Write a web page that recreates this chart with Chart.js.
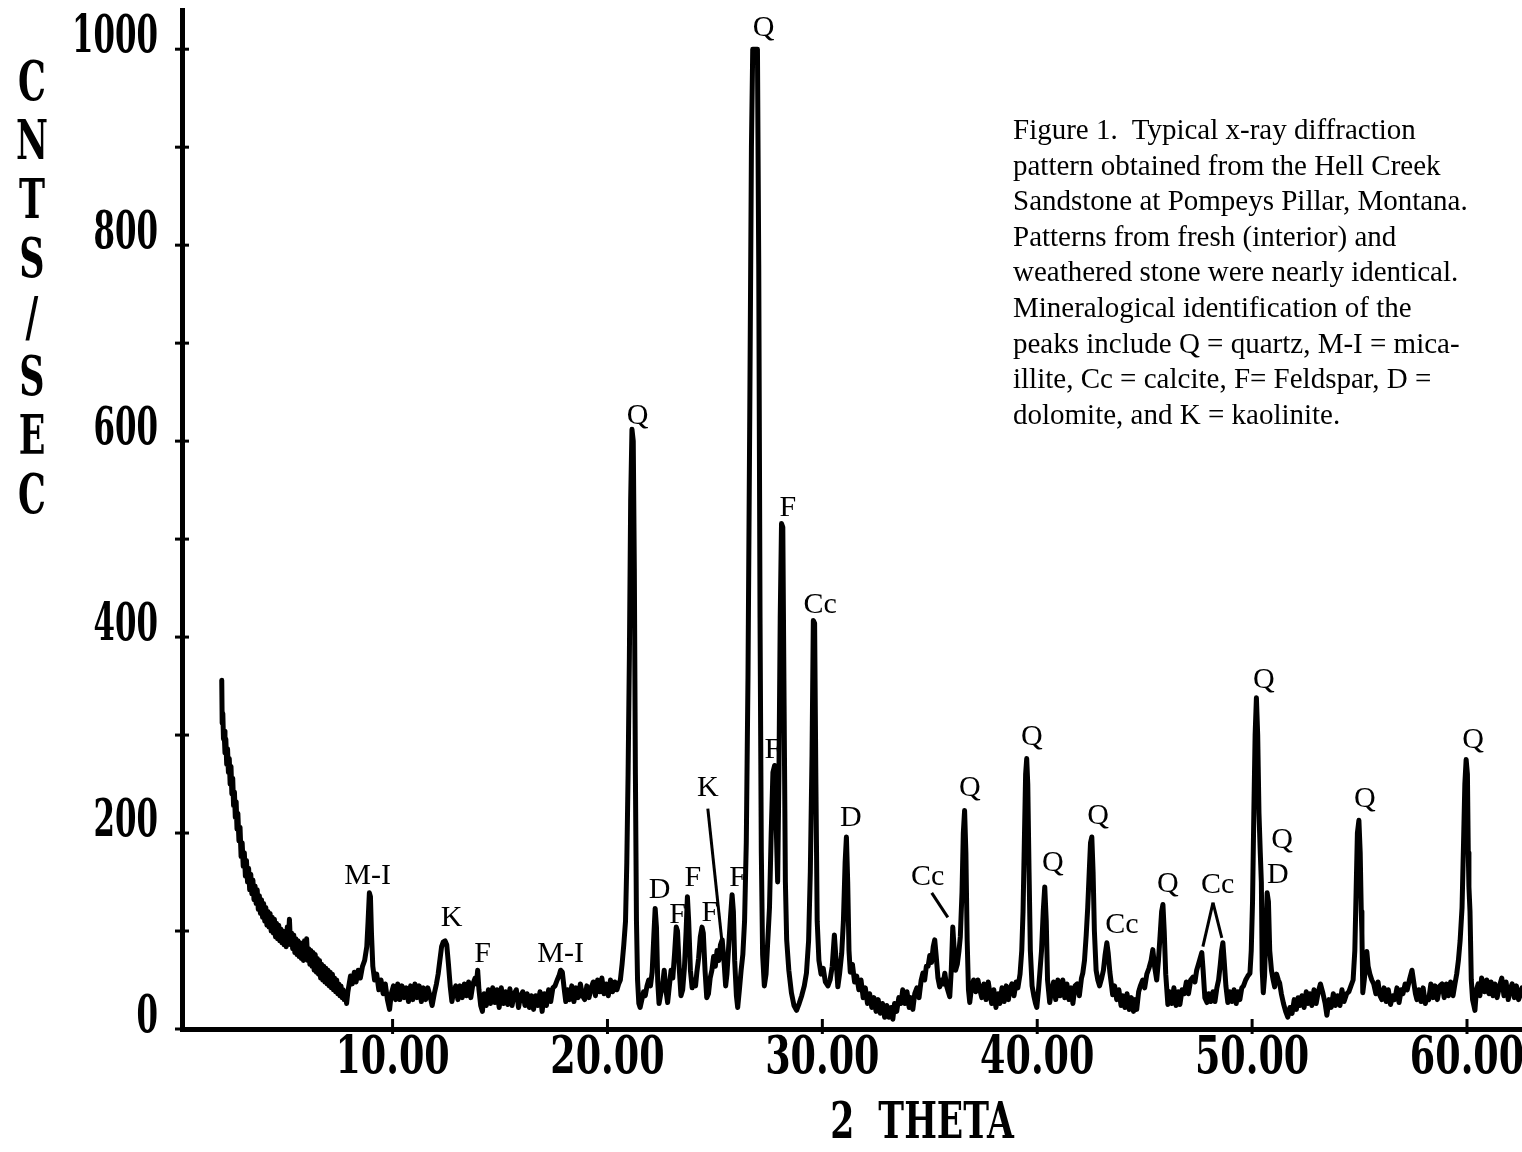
<!DOCTYPE html>
<html>
<head>
<meta charset="utf-8">
<script src="https://cdn.jsdelivr.net/npm/chart.js@4.4.1/dist/chart.umd.min.js"></script>
<style>
  html, body { margin: 0; padding: 0; background: #fff; }
  #wrap { position: relative; width: 1522px; height: 1152px; overflow: hidden; }
  #xrd { position: absolute; left: 0; top: 0; }
  .caption {
    position: absolute; left: 1013px; top: 112px;
    font-family: "Liberation Serif", "Times New Roman", serif;
    font-size: 29px; line-height: 35.6px; color: #000; white-space: nowrap;
  }
  .ytitle {
    position: absolute; left: 8px; top: 52px; width: 48px;
    font-family: "DejaVu Serif Condensed", "DejaVu Serif", serif; font-weight: bold;
    font-size: 54px; line-height: 59px; text-align: center; color: #000;
    transform: scaleX(0.72); transform-origin: center top;
  }
  .xtitle {
    position: absolute; left: 722px; top: 1096px; width: 400px; text-align: center;
    font-family: "DejaVu Serif Condensed", "DejaVu Serif", serif; font-weight: bold;
    font-size: 50px; line-height: 50px; color: #000; white-space: pre;
    transform: scaleX(0.77); transform-origin: center top;
  }
</style>
</head>
<body>
<div id="wrap">
  <canvas id="xrd" width="1522" height="1152"></canvas>
  <div class="ytitle">C<br>N<br>T<br>S<br>/<br>S<br>E<br>C</div>
  <div class="xtitle">2  THETA</div>
  <div class="caption">Figure 1.&nbsp; Typical x-ray diffraction<br>pattern obtained from the Hell Creek<br>Sandstone at Pompeys Pillar, Montana.<br>Patterns from fresh (interior) and<br>weathered stone were nearly identical.<br>Mineralogical identification of the<br>peaks include Q = quartz, M-I = mica-<br>illite, Cc = calcite, F= Feldspar, D =<br>dolomite, and K = kaolinite.</div>
</div>
<script>
// diffraction trace, [2 theta, counts/sec]
const lowAngle = [
  [2.05,356],[2.07,312],[2.1,322],[2.13,296],[2.16,304],[2.2,282],[2.24,296],[2.28,270],[2.32,286],[2.36,262],
  [2.4,276],[2.44,250],[2.48,268],[2.52,240],[2.56,256],[2.6,228],[2.64,242],[2.68,216],[2.72,232],[2.76,204],
  [2.8,220],[2.85,192],[2.9,206],[2.95,176],[3.0,190],[3.05,166],[3.1,180],[3.15,156],[3.2,172],[3.25,150],
  [3.3,164],[3.35,142],[3.4,158],[3.45,138],[3.5,152],[3.55,132],[3.6,146],[3.65,128],[3.7,142],[3.75,122],
  [3.8,136],[3.85,118],[3.9,132],[3.95,114],[4.0,128],[4.05,110],[4.1,124],[4.15,106],[4.2,120],[4.25,104],
  [4.3,118],[4.35,100],[4.4,114],[4.45,98],[4.5,112],[4.55,94],[4.6,108],[4.65,92],[4.7,106],[4.75,90],
  [4.8,102],[4.85,88],[4.9,100],[4.95,86],[5.0,98],[5.05,84],[5.1,104],[5.15,92],[5.2,112],[5.25,86],
  [5.3,98],[5.35,82],[5.4,96],[5.45,78],[5.5,92],[5.55,76],[5.6,90],[5.65,74],[5.7,88],[5.75,72],
  [5.8,86],[5.85,70],[5.9,90],[5.95,74],[6.0,92],[6.05,70],[6.1,82],[6.15,66],[6.2,80],[6.25,64],
  [6.3,78],[6.35,60],[6.4,76],[6.45,58],[6.5,72],[6.55,56],[6.6,70],[6.65,52],[6.7,66],[6.75,50],
  [6.8,64],[6.85,48],[6.9,62],[6.95,46],[7.0,60],[7.05,44],[7.1,58],[7.15,42],[7.2,56],[7.25,40],
  [7.3,52],[7.35,38],[7.4,50],[7.45,36],[7.5,46],[7.55,34],[7.6,44],[7.65,32],[7.7,40],[7.75,30],
  [7.8,36],[7.86,26],[7.92,38],[7.98,46],[8.04,54],[8.12,46],[8.22,58],[8.3,48],[8.4,60],[8.5,52],
  [8.6,64],[8.7,70],[8.8,84],[8.86,110],[8.92,139],[8.97,135],[9.02,96],[9.08,64],[9.16,50],[9.26,56],
  [9.36,40],[9.46,50],[9.56,36],[9.66,46],[9.76,30],[9.86,20],[9.94,36],[10.04,44],[10.14,30],[10.24,46],
  [10.34,30],[10.44,44],[10.54,32],[10.64,42],[10.74,28],[10.84,44],[10.94,30],[11.04,46],[11.14,32],[11.24,44],
  [11.34,28],[11.44,42],[11.54,30],[11.64,42],[11.74,34],[11.84,24],[11.94,36],[12.04,46],[12.12,56],[12.2,70],
  [12.28,84],[12.36,89],[12.44,90],[12.52,86],[12.6,66],[12.68,44],[12.76,28],[12.84,38],[12.94,44],[13.04,30],
  [13.14,44],[13.24,32],[13.34,46],[13.44,34],[13.54,48],[13.64,32],[13.74,46],[13.84,52],[13.9,46],[13.96,60],
  [14.02,40],[14.1,24],[14.18,18],[14.26,36],[14.36,24],[14.46,40],[14.56,26],[14.66,42],[14.76,27],[14.86,40],
  [14.96,22],[15.06,42],[15.16,26],[15.26,38],[15.36,25],[15.46,41],[15.56,24],[15.66,36],[15.76,40],[15.86,22],
  [15.96,34],[16.06,38],[16.16,24],[16.26,36],[16.36,22],[16.46,34],[16.56,20],[16.66,34],[16.76,24],[16.86,38],
  [16.96,18],[17.06,36],[17.16,24],[17.26,40],[17.36,28],[17.46,42],[17.56,44],[17.66,50],[17.74,54],[17.82,60],
  [17.9,58],[17.98,42],[18.06,28],[18.14,40],[18.24,30],[18.34,44],[18.44,28],[18.54,42],[18.64,32],[18.74,46],
  [18.84,34],[18.94,30],[19.04,44],[19.14,32],[19.24,42],[19.34,48],[19.44,34],[19.54,50],[19.64,38],[19.74,52],
  [19.84,36],[19.94,46],[20.04,34],[20.14,50],[20.24,38],[20.34,48]
];
const quartzCluster = [
  [20.44,40],[20.52,46],[20.6,50],[20.68,66],[20.76,86],[20.84,110],[20.9,170],[20.96,260],[21.02,380],[21.08,540],
  [21.14,612],[21.2,600],[21.25,470],[21.3,260],[21.35,110],[21.4,50],[21.46,26],[21.52,22],[21.6,30],[21.68,38],
  [21.76,34],[21.84,44],[21.92,50],[22.0,44],[22.08,58],[22.16,96],[22.22,123],[22.28,104],[22.34,48],[22.4,26],
  [22.48,36],[22.56,44],[22.64,60],[22.72,40],[22.8,27],[22.88,44],[22.96,60],[23.04,52],[23.12,76],[23.2,104],
  [23.26,100],[23.34,62],[23.42,34],[23.5,40],[23.58,62],[23.66,100],[23.72,135],[23.78,110],[23.86,60],[23.94,42],
  [24.02,50],[24.1,44],[24.16,58],[24.24,72],[24.32,94],[24.4,104],[24.46,98],[24.54,60],[24.62,32],[24.7,36],
  [24.78,52],[24.86,60],[24.94,74],[25.02,64],[25.1,80],[25.18,70],[25.26,86],[25.34,91],[25.42,70],[25.5,44],
  [25.56,56],[25.64,84],[25.72,112],[25.8,137],[25.86,120],[25.92,70],[26.0,34],[26.06,22],[26.14,40],[26.22,60],
  [26.3,76],[26.38,110],[26.46,190],[26.54,360],[26.62,620],[26.7,900],[26.76,1000],[26.98,1000],[27.04,780],[27.1,420],
  [27.16,180],[27.22,76],[27.3,44],[27.38,56],[27.46,90],[27.54,124],[27.62,200],[27.7,262],[27.78,269],[27.85,210],
  [27.92,150],[27.98,260],[28.04,420],[28.1,516],[28.16,512],[28.22,330],[28.28,150],[28.34,91],[28.44,60],[28.56,37],
  [28.68,24],[28.8,19],[28.92,26],[29.04,34],[29.16,44],[29.26,57],[29.36,90],[29.44,160],[29.52,280],[29.58,417],
  [29.64,414],[29.7,250],[29.76,110],[29.84,70],[29.94,56],[30.04,62],[30.14,48],[30.26,44],[30.36,50],[30.46,64],
  [30.56,96],[30.64,70],[30.72,43],[30.8,56],[30.9,77],[30.98,110],[31.06,170],[31.12,196],[31.18,150],[31.24,80],
  [31.3,58],[31.4,66],[31.5,48],[31.6,54],[31.7,40],[31.8,50],[31.9,32],[32.0,42],[32.1,26],[32.2,36],
  [32.3,22],[32.4,32],[32.5,18],[32.6,30],[32.7,16],[32.8,26],[32.9,12],[33.0,24],[33.1,12],[33.2,22],
  [33.28,10],[33.36,26],[33.46,18],[33.56,32]
];
const midAngle = [
  [33.66,26],[33.74,40],[33.84,26],[33.94,38],[34.04,22],[34.12,32],[34.21,20],[34.3,36],[34.4,42],[34.5,32],
  [34.6,50],[34.68,57],[34.76,50],[34.84,64],[34.92,64],[35.0,75],[35.08,68],[35.16,84],[35.23,91],[35.3,74],
  [35.38,52],[35.46,43],[35.54,50],[35.62,46],[35.7,57],[35.78,44],[35.86,38],[35.93,33],[36.0,60],[36.07,104],
  [36.14,80],[36.2,60],[36.28,66],[36.36,80],[36.42,94],[36.5,140],[36.56,200],[36.62,223],[36.68,180],[36.74,90],
  [36.8,40],[36.86,27],[36.94,42],[37.04,50],[37.14,38],[37.24,50],[37.33,40],[37.42,32],[37.52,46],[37.62,30],
  [37.72,48],[37.79,38],[37.88,26],[37.98,40],[38.08,22],[38.18,36],[38.26,26],[38.36,42],[38.46,28],[38.56,44],
  [38.66,30],[38.72,40],[38.82,46],[38.92,34],[39.02,48],[39.1,42],[39.2,56],[39.28,80],[39.34,120],[39.4,190],
  [39.46,260],[39.51,276],[39.56,250],[39.62,160],[39.68,80],[39.76,44],[39.84,34],[39.92,26],[39.98,22],[40.06,40],
  [40.12,57],[40.2,80],[40.28,120],[40.35,145],[40.42,110],[40.48,50],[40.58,27],[40.66,38],[40.76,48],[40.86,30],
  [40.96,50],[41.06,34],[41.19,50],[41.28,32],[41.38,46],[41.48,30],[41.58,42],[41.66,26],[41.76,44],[41.86,46],
  [41.96,34],[42.06,52],[42.12,57],[42.2,70],[42.28,96],[42.35,124],[42.42,160],[42.48,190],[42.54,196],[42.6,160],
  [42.66,100],[42.74,60],[42.82,50],[42.9,44],[43.0,52],[43.08,60],[43.16,76],[43.24,88],[43.3,78],[43.38,58],
  [43.46,44],[43.51,35],[43.6,44],[43.7,30],[43.8,40],[43.9,24],[43.98,34],[44.08,22],[44.18,36],[44.28,20],
  [44.38,32],[44.48,18],[44.56,30],[44.63,20],[44.72,38],[44.8,44],[44.91,50],[45.0,42],[45.1,56],[45.2,62],
  [45.3,70],[45.38,81],[45.46,64],[45.56,50],[45.64,70],[45.72,96],[45.79,120],[45.85,127],[45.91,100],[45.98,56],
  [46.08,25],[46.16,38],[46.26,26],[46.36,42],[46.46,24],[46.56,38],[46.64,25],[46.74,40],[46.84,36],[46.94,48],
  [47.04,36],[47.14,50],[47.25,53],[47.34,48],[47.42,60],[47.5,66],[47.58,72],[47.66,78],[47.72,60],[47.8,32]
];
const highAngle = [
  [47.9,27],[47.98,36],[48.08,28],[48.18,38],[48.27,28],[48.36,42],[48.44,50],[48.52,66],[48.58,80],[48.64,88],
  [48.7,70],[48.78,44],[48.87,27],[48.96,38],[49.06,28],[49.16,40],[49.26,26],[49.34,38],[49.43,30],[49.52,42],
  [49.6,44],[49.7,50],[49.8,54],[49.9,57],[49.96,80],[50.02,130],[50.08,220],[50.14,300],[50.2,338],[50.26,300],
  [50.32,220],[50.38,180],[50.43,150],[50.47,60],[50.52,37],[50.58,54],[50.64,100],[50.7,139],[50.76,130],[50.82,80],
  [50.9,60],[50.98,50],[51.05,43],[51.14,56],[51.22,50],[51.28,47],[51.36,36],[51.46,26],[51.56,18],[51.66,12],
  [51.76,22],[51.86,16],[51.96,30],[52.06,20],[52.14,32],[52.22,24],[52.32,34],[52.42,22],[52.52,38],[52.6,26],
  [52.69,36],[52.78,24],[52.88,40],[52.98,26],[53.08,38],[53.18,46],[53.3,36],[53.4,26],[53.48,14],[53.58,30],
  [53.68,22],[53.78,36],[53.88,24],[53.98,34],[54.09,24],[54.18,40],[54.28,28],[54.4,36],[54.5,38],[54.6,44],
  [54.7,50],[54.78,80],[54.84,140],[54.9,200],[54.97,213],[55.03,180],[55.08,120],[55.11,98],[55.15,37],[55.22,50],
  [55.28,66],[55.34,79],[55.4,64],[55.48,56],[55.57,50],[55.66,46],[55.76,36],[55.86,48],[55.95,34],[56.04,30],
  [56.14,42],[56.24,28],[56.34,40],[56.44,25],[56.55,34],[56.64,30],[56.74,42],[56.84,27],[56.94,40],[57.02,36],
  [57.12,46],[57.22,40],[57.32,50],[57.44,60],[57.52,48],[57.6,36],[57.67,30],[57.76,40],[57.86,28],[57.96,42],
  [58.06,26],[58.13,32],[58.22,30],[58.32,46],[58.42,32],[58.52,44],[58.62,30],[58.74,44],[58.84,46],[58.94,32],
  [59.04,46],[59.14,34],[59.24,48],[59.35,34],[59.44,46],[59.52,56],[59.6,70],[59.68,90],[59.77,124],[59.84,190],
  [59.9,250],[59.96,275],[60.02,260],[60.06,180],[60.09,145],[60.14,120],[60.2,50],[60.26,30],[60.32,24],[60.37,19],
  [60.44,40],[60.52,46],[60.6,34],[60.68,52],[60.74,48],[60.82,38],[60.92,50],[61.02,36],[61.12,48],[61.21,34],
  [61.3,46],[61.4,32],[61.54,46],[61.62,52],[61.72,34],[61.82,48],[61.92,30],[62.0,40],[62.1,46],[62.2,32],
  [62.3,44],[62.4,30],[62.47,34],[62.56,42]
];

// mineral labels: text, 2 theta and counts at the label centre
const peakNames  = ['Q', 'Q', 'F', 'Cc', 'F', 'K', 'D', 'D', 'F', 'F', 'F', 'F',
                    'M-I', 'K', 'F', 'M-I', 'Cc', 'Q', 'Q', 'Q', 'Q', 'Cc', 'Q', 'Cc',
                    'Q', 'Q', 'D', 'Q', 'Q'];
const peakTheta  = [27.27, 21.4, 28.4, 29.9, 27.7, 24.67, 31.33, 22.43, 23.97, 23.26, 24.76, 26.06,
                    8.84, 12.75, 14.19, 17.82, 34.9, 36.86, 39.75, 40.73, 42.83, 43.94, 46.08, 48.4,
                    50.54, 51.4, 51.2, 55.25, 60.28];
const peakCounts = [1022, 626, 532, 433, 285, 246, 215, 142, 154, 116, 118, 154,
                    156, 113, 76, 76, 155, 246, 298, 169, 217, 106, 148, 147,
                    356, 193, 157, 235, 295];
// pointer lines from labels to their peaks: [theta1, counts1, theta2, counts2]
const leaderLines = [
  [24.67, 225, 25.32, 91],
  [35.09, 139, 35.84, 114],
  [47.71, 84, 48.18, 129],
  [48.18, 129, 48.59, 93]
];

const yTickValues = [0, 100, 200, 300, 400, 500, 600, 700, 800, 900, 1000];
const yTickLabels = ['0', '', '200', '', '400', '', '600', '', '800', '', '1000'];
const xTickValues = [10, 20, 30, 40, 50, 60];
const xTickLabels = ['10.00', '20.00', '30.00', '40.00', '50.00', '60.00'];

const trace = [...lowAngle, ...quartzCluster, ...midAngle, ...highAngle]
  .map(([t, c]) => ({ x: t, y: c }));

const tickFont = 'bold 52px "DejaVu Serif Condensed", "DejaVu Serif", serif';

const xrdDecor = {
  id: 'xrdDecor',
  beforeDatasetsDraw(chart) {
    const { ctx, scales: { x, y } } = chart;
    ctx.save();
    ctx.fillStyle = '#000';
    ctx.font = '30px "Liberation Serif", "Times New Roman", serif';
    ctx.textAlign = 'center';
    ctx.textBaseline = 'middle';
    peakNames.forEach((name, i) => {
      ctx.fillText(name, x.getPixelForValue(peakTheta[i]), y.getPixelForValue(peakCounts[i]));
    });
    ctx.strokeStyle = '#000';
    ctx.lineWidth = 3;
    leaderLines.forEach(([t1, c1, t2, c2]) => {
      ctx.beginPath();
      ctx.moveTo(x.getPixelForValue(t1), y.getPixelForValue(c1));
      ctx.lineTo(x.getPixelForValue(t2), y.getPixelForValue(c2));
      ctx.stroke();
    });
    ctx.restore();
  },
  afterDraw(chart) {
    const { ctx, scales: { x, y } } = chart;
    const left = chart.chartArea.left;
    const bottom = chart.chartArea.bottom;
    ctx.save();
    ctx.strokeStyle = '#000';
    ctx.fillStyle = '#000';
    ctx.lineWidth = 3;
    // tick marks cross the axis lines
    yTickValues.forEach(v => {
      const py = y.getPixelForValue(v);
      ctx.beginPath();
      ctx.moveTo(left - 7, py);
      ctx.lineTo(left + 7, py);
      ctx.stroke();
    });
    xTickValues.forEach(v => {
      const px = x.getPixelForValue(v);
      ctx.beginPath();
      ctx.moveTo(px, bottom - 10);
      ctx.lineTo(px, bottom + 5);
      ctx.stroke();
    });
    ctx.font = tickFont;
    ctx.textBaseline = 'middle';
    // condensed tick lettering
    ctx.textAlign = 'right';
    yTickValues.forEach((v, i) => {
      if (!yTickLabels[i]) return;
      ctx.save();
      ctx.translate(left - 24, y.getPixelForValue(v) - 11);
      ctx.scale(0.66, 1);
      ctx.fillText(yTickLabels[i], 0, 0);
      ctx.restore();
    });
    ctx.textAlign = 'center';
    xTickValues.forEach((v, i) => {
      ctx.save();
      ctx.translate(x.getPixelForValue(v), bottom + 30);
      ctx.scale(0.78, 1);
      ctx.fillText(xTickLabels[i], 0, 0);
      ctx.restore();
    });
    ctx.restore();
  }
};

new Chart(document.getElementById('xrd'), {
  type: 'line',
  data: {
    datasets: [{
      data: trace,
      borderColor: '#000',
      borderWidth: 5,
      borderJoinStyle: 'round',
      borderCapStyle: 'round',
      pointRadius: 0,
      tension: 0,
      fill: false
    }]
  },
  options: {
    responsive: false,
    animation: false,
    devicePixelRatio: 1,
    layout: { padding: { top: 10, left: 0, right: 0, bottom: 0 } },
    plugins: { legend: { display: false }, tooltip: { enabled: false } },
    scales: {
      x: {
        type: 'linear',
        min: 0.2,
        max: 62.56,
        grid: { display: false },
        border: { display: true, color: '#000', width: 5 },
        ticks: { display: false },
        afterBuildTicks: s => { s.ticks = xTickValues.map(v => ({ value: v })); },
        afterFit: s => { s.height = 123; }
      },
      y: {
        type: 'linear',
        min: 0,
        max: 1040,
        grid: { display: false },
        border: { display: true, color: '#000', width: 5 },
        ticks: { display: false },
        afterBuildTicks: s => { s.ticks = yTickValues.map(v => ({ value: v })); },
        afterFit: s => { s.width = 182; }
      }
    }
  },
  plugins: [xrdDecor]
});
</script>
</body>
</html>
